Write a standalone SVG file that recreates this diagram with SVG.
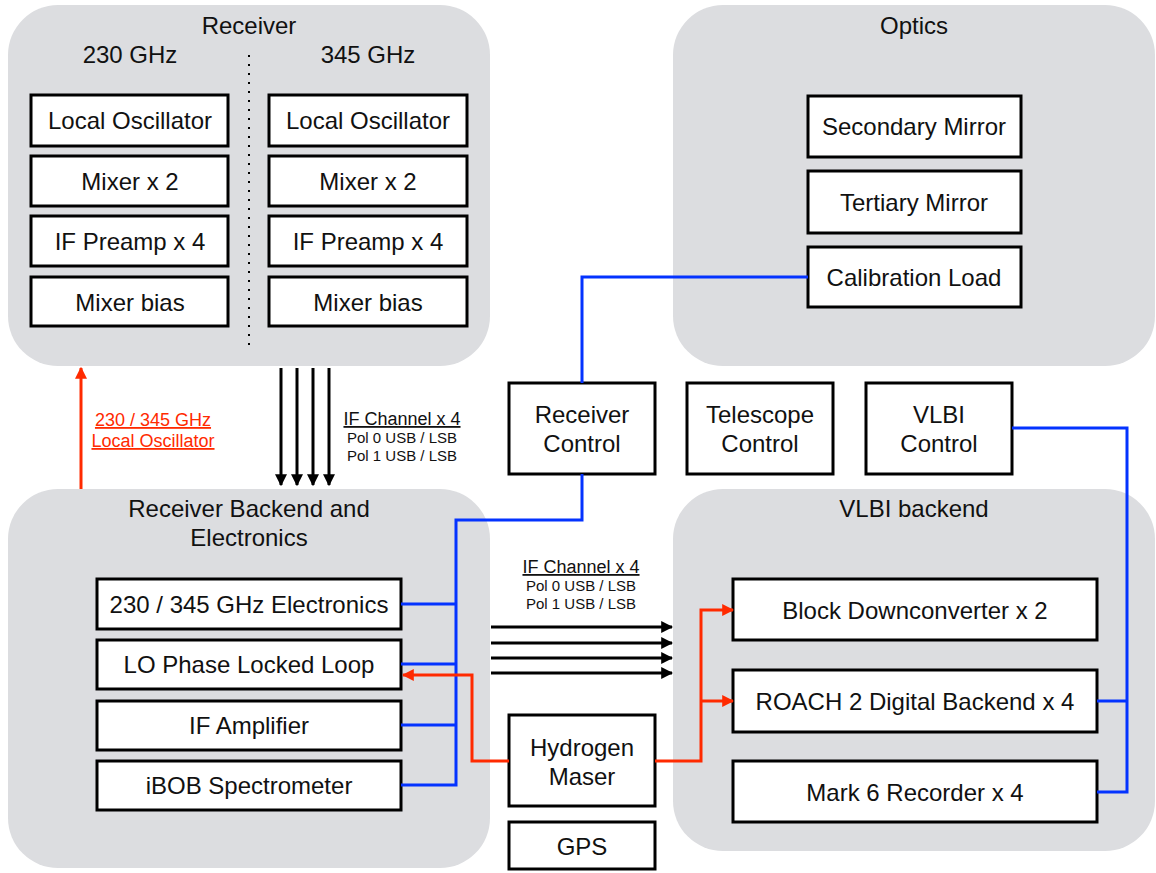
<svg xmlns="http://www.w3.org/2000/svg" width="1156" height="873" viewBox="0 0 1156 873">
<defs>
<style>
.grp{fill:#dcdde0;stroke:none}
.box{fill:#fff;stroke:#000;stroke-width:3}
text{font-family:"Liberation Sans",Arial,sans-serif;fill:#111}
.t{font-size:24px;text-anchor:middle}
.s{font-size:15px;text-anchor:middle}
.h{font-size:18px}
.u{text-decoration:underline}
.blue{fill:none;stroke:#0433ff;stroke-width:3}
.red{fill:none;stroke:#ff2a00;stroke-width:3}
.blk{fill:none;stroke:#000;stroke-width:3}
</style>
<marker id="ab" viewBox="0 0 10 10" refX="9" refY="5" markerWidth="4" markerHeight="4" orient="auto" markerUnits="strokeWidth"><path d="M0,0 L10,5 L0,10 z" fill="#000"/></marker>
<marker id="ar" viewBox="0 0 10 10" refX="9" refY="5" markerWidth="4" markerHeight="4" orient="auto" markerUnits="strokeWidth"><path d="M0,0 L10,5 L0,10 z" fill="#ff2a00"/></marker>
</defs>
<rect width="1156" height="873" fill="#fff"/>

<g id="receiver">
<rect class="grp" x="8" y="5" width="482" height="361" rx="50"/>
<text class="t" x="249" y="34">Receiver</text>
<text class="t" x="130" y="63">230 GHz</text>
<text class="t" x="368" y="63">345 GHz</text>
<line x1="249" y1="55" x2="249" y2="348" stroke="#000" stroke-width="2" stroke-dasharray="2,7"/>
<g id="lo230"><rect class="box" x="31" y="95" width="197" height="51"/><text class="t" x="130" y="129">Local Oscillator</text></g>
<g id="mix230"><rect class="box" x="31" y="156" width="197" height="50"/><text class="t" x="130" y="190">Mixer x 2</text></g>
<g id="ifp230"><rect class="box" x="31" y="216" width="197" height="50"/><text class="t" x="130" y="250">IF Preamp x 4</text></g>
<g id="mb230"><rect class="box" x="31" y="277" width="197" height="49"/><text class="t" x="130" y="311">Mixer bias</text></g>
<g id="lo345"><rect class="box" x="269" y="95" width="198" height="51"/><text class="t" x="368" y="129">Local Oscillator</text></g>
<g id="mix345"><rect class="box" x="269" y="156" width="198" height="50"/><text class="t" x="368" y="190">Mixer x 2</text></g>
<g id="ifp345"><rect class="box" x="269" y="216" width="198" height="50"/><text class="t" x="368" y="250">IF Preamp x 4</text></g>
<g id="mb345"><rect class="box" x="269" y="277" width="198" height="49"/><text class="t" x="368" y="311">Mixer bias</text></g>
</g>

<g id="optics">
<rect class="grp" x="673" y="5" width="482" height="361" rx="50"/>
<text class="t" x="914" y="34">Optics</text>
<g id="secmirror"><rect class="box" x="808" y="96" width="213" height="61"/><text class="t" x="914" y="135">Secondary Mirror</text></g>
<g id="termirror"><rect class="box" x="808" y="171" width="213" height="62"/><text class="t" x="914" y="211">Tertiary Mirror</text></g>
<g id="calload"><rect class="box" x="808" y="247" width="213" height="60"/><text class="t" x="914" y="286">Calibration Load</text></g>
</g>

<g id="backend">
<rect class="grp" x="8" y="489" width="482" height="379" rx="50"/>
<text class="t" x="249" y="517">Receiver Backend and</text>
<text class="t" x="249" y="546">Electronics</text>
<g id="elec"><rect class="box" x="97" y="579" width="304" height="50"/><text class="t" x="249" y="613">230 / 345 GHz Electronics</text></g>
<g id="pll"><rect class="box" x="97" y="640" width="304" height="49"/><text class="t" x="249" y="673">LO Phase Locked Loop</text></g>
<g id="ifamp"><rect class="box" x="97" y="701" width="304" height="49"/><text class="t" x="249" y="734">IF Amplifier</text></g>
<g id="ibob"><rect class="box" x="97" y="761" width="304" height="49"/><text class="t" x="249" y="794">iBOB Spectrometer</text></g>
</g>

<g id="vlbibackend">
<rect class="grp" x="673" y="489" width="482" height="362" rx="50"/>
<text class="t" x="914" y="517">VLBI backend</text>
<g id="bdc"><rect class="box" x="733" y="579" width="364" height="61"/><text class="t" x="915" y="619">Block Downconverter x 2</text></g>
<g id="roach"><rect class="box" x="733" y="670" width="364" height="62"/><text class="t" x="915" y="710">ROACH 2 Digital Backend x 4</text></g>
<g id="mark6"><rect class="box" x="733" y="761" width="364" height="61"/><text class="t" x="915" y="801">Mark 6 Recorder x 4</text></g>
</g>

<g id="rxcontrol"><rect class="box" x="509" y="383" width="146" height="91"/><text class="t" x="582" y="423">Receiver</text><text class="t" x="582" y="452">Control</text></g>
<g id="telcontrol"><rect class="box" x="687" y="383" width="146" height="91"/><text class="t" x="760" y="423">Telescope</text><text class="t" x="760" y="452">Control</text></g>
<g id="vlbicontrol"><rect class="box" x="866" y="383" width="146" height="91"/><text class="t" x="939" y="423">VLBI</text><text class="t" x="939" y="452">Control</text></g>
<g id="maser"><rect class="box" x="509" y="715" width="146" height="91"/><text class="t" x="582" y="756">Hydrogen</text><text class="t" x="582" y="785">Maser</text></g>
<g id="gps"><rect class="box" x="509" y="822" width="146" height="47"/><text class="t" x="582" y="855">GPS</text></g>

<g id="connectors">
<polyline class="blue" points="808,277 582,277 582,383"/>
<polyline class="blue" points="582,474 582,520 456,520 456,785 401,785"/>
<line class="blue" x1="401" y1="604" x2="456" y2="604"/>
<line class="blue" x1="401" y1="664" x2="456" y2="664"/>
<line class="blue" x1="401" y1="725" x2="456" y2="725"/>
<polyline class="blue" points="1012,428 1127,428 1127,792 1097,792"/>
<line class="blue" x1="1097" y1="701" x2="1127" y2="701"/>

<polyline class="red" points="509,761 472,761 472,675 403,675" marker-end="url(#ar)"/>
<polyline class="red" points="655,761 701,761 701,610 733,610" marker-end="url(#ar)"/>
<line class="red" x1="701" y1="701" x2="733" y2="701" marker-end="url(#ar)"/>
<line class="red" x1="81" y1="489" x2="81" y2="368" marker-end="url(#ar)"/>

<line class="blk" x1="281" y1="368" x2="281" y2="485" marker-end="url(#ab)"/>
<line class="blk" x1="297" y1="368" x2="297" y2="485" marker-end="url(#ab)"/>
<line class="blk" x1="313" y1="368" x2="313" y2="485" marker-end="url(#ab)"/>
<line class="blk" x1="329" y1="368" x2="329" y2="485" marker-end="url(#ab)"/>

<line class="blk" x1="491" y1="627" x2="672" y2="627" marker-end="url(#ab)"/>
<line class="blk" x1="491" y1="643" x2="672" y2="643" marker-end="url(#ab)"/>
<line class="blk" x1="491" y1="658" x2="672" y2="658" marker-end="url(#ab)"/>
<line class="blk" x1="491" y1="673" x2="672" y2="673" marker-end="url(#ab)"/>
</g>

<g id="labels">
<text class="s u h" x="402" y="425">IF Channel x 4</text>
<text class="s" x="402" y="443">Pol 0 USB / LSB</text>
<text class="s" x="402" y="461">Pol 1 USB / LSB</text>
<text class="s u h" x="581" y="573">IF Channel x 4</text>
<text class="s" x="581" y="591">Pol 0 USB / LSB</text>
<text class="s" x="581" y="609">Pol 1 USB / LSB</text>
<text class="u h" x="153" y="426" text-anchor="middle" style="fill:#ff2a00">230 / 345 GHz</text>
<text class="u h" x="153" y="447" text-anchor="middle" style="fill:#ff2a00">Local Oscillator</text>
</g>
</svg>
